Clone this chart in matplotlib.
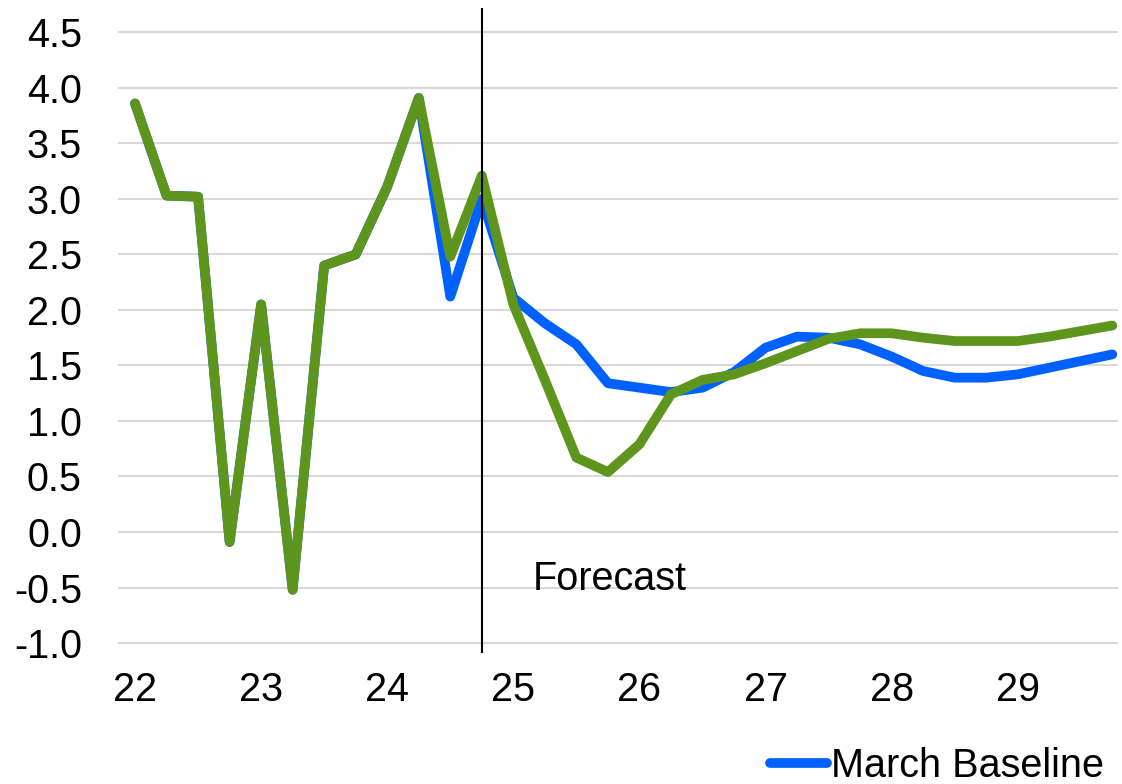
import numpy as np
import matplotlib.pyplot as plt
from matplotlib.lines import Line2D

plt.rcParams['font.family'] = ['Liberation Sans', 'DejaVu Sans']

# quarterly, 22Q1 .. 29Q4
years = ['22', '23', '24', '25', '26', '27', '28', '29']

march_baseline = [3.86, 3.03, 3.02, -0.09, 2.05, -0.52, 2.40, 2.50,
                  3.11, 3.91, 2.12, 3.00, 2.11, 1.88, 1.69, 1.34,
                  1.30, 1.26, 1.30, 1.44, 1.66, 1.76, 1.75, 1.69,
                  1.58, 1.45, 1.39, 1.39, 1.42, 1.48, 1.54, 1.60]

alternative = [3.86, 3.03, 3.02, -0.09, 2.05, -0.52, 2.40, 2.50,
               3.11, 3.91, 2.48, 3.21, 2.05, 1.37, 0.67, 0.54,
               0.79, 1.24, 1.37, 1.42, 1.52, 1.63, 1.74, 1.79,
               1.79, 1.75, 1.72, 1.72, 1.72, 1.76, 1.81, 1.86]

forecast_start = 11  # 24Q4

blue = '#0061ff'
green = '#5e951d'
fs = 28.5

fig = plt.figure(figsize=(11.22, 7.84), dpi=100)
ax = fig.add_axes([118/1122, 1 - 653/784, 1000/1122, 645/784])

x = np.arange(len(march_baseline))
ax.plot(x, march_baseline, color=blue, lw=7, solid_capstyle='round', solid_joinstyle='round', zorder=3)
ax.plot(x, alternative, color=green, lw=7, solid_capstyle='round', solid_joinstyle='round', zorder=4)
ax.axvline(forecast_start, color='black', lw=1.5, zorder=5)
ax.text(forecast_start + 1.62, -0.42, 'Forecast', fontsize=fs, va='center', ha='left')

ax.set_xlim(-0.54, 31.18)
ax.set_ylim(-1.09, 4.72)
ax.set_yticks(np.arange(-1.0, 4.51, 0.5))
ax.set_yticklabels([f'{v:.1f}' for v in np.arange(-1.0, 4.51, 0.5)])
ax.set_xticks(np.arange(0, len(x), 4))
ax.set_xticklabels(years)
ax.tick_params(axis='both', length=0, labelsize=fs)
ax.tick_params(axis='y', pad=26)
ax.tick_params(axis='x', pad=13)
ax.grid(axis='y', color='#d9d9d9', lw=1.5)
ax.set_axisbelow(True)
for s in ax.spines.values():
    s.set_visible(False)

handle = Line2D([], [], color=blue, lw=7, solid_capstyle='round')
fig.legend(handles=[handle], labels=['March Baseline'], loc='upper left',
           bbox_to_anchor=(770/1122, 1 - 747/784), frameon=False, fontsize=fs,
           handlelength=1.44, handletextpad=0.1, borderpad=0, borderaxespad=0)

fig.savefig('out.png', dpi=100)
